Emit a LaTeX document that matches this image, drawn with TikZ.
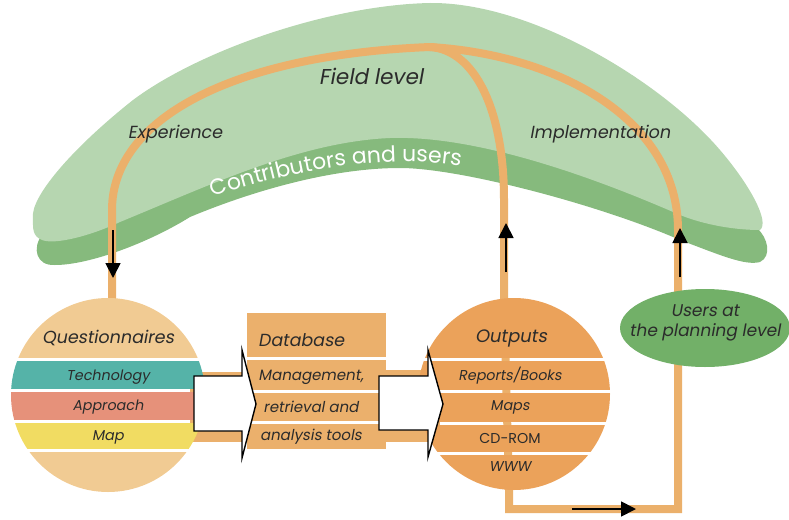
\documentclass[tikz,border=0pt]{standalone}
\usepackage{fontspec}
\setmainfont{Poppins}[ItalicFont=Poppins, ItalicFeatures={FakeSlant=0.18}]
\usetikzlibrary{arrows.meta,decorations.text,shapes.geometric}
\definecolor{lgreen}{HTML}{B6D6B0}
\definecolor{dgreen}{HTML}{86BA7D}
\definecolor{ugreen}{HTML}{72B068}
\definecolor{oline}{HTML}{EBB06B}
\definecolor{tanc}{HTML}{F1CB93}
\definecolor{tealc}{HTML}{55B3A8}
\definecolor{salmonc}{HTML}{E6917A}
\definecolor{yellowc}{HTML}{F1DC62}
\definecolor{dbc}{HTML}{EBB06C}
\definecolor{outc}{HTML}{EBA25A}
\definecolor{txt}{HTML}{2B2B2B}
\begin{document}
\begin{tikzpicture}[x=1pt,y=-1pt,
  orangeline/.style={draw=oline, line width=8pt},
  blackarrow/.style={line width=1.8pt, -{Triangle[length=15pt,width=15pt]}},
  blockarrow/.style={draw=black, line width=1.4pt, fill=white, line join=miter},
  big/.style={font=\itshape\fontsize{17.5}{20}\selectfont, text=txt, inner sep=0},
  small/.style={font=\itshape\fontsize{14.3}{16}\selectfont, text=txt, inner sep=0},
  smallup/.style={font=\fontsize{14.3}{16}\selectfont, text=txt, inner sep=0},
  field/.style={font=\itshape\fontsize{17.5}{20}\selectfont, text=txt, inner sep=0},
  anchorcircle/.style={circle, minimum size=#1, inner sep=0}
]
\useasboundingbox (0,0) rectangle (789,519);

% ---- green arc ----
\fill[dgreen] (42,235) .. controls (32,248) and (36,266) .. (55,265)
  .. controls (90,265) and (150,242) .. (190,217)
  .. controls (250,192) and (330,168) .. (400,168)
  .. controls (460,168) and (600,205) .. (680,240)
  .. controls (720,255) and (745,266) .. (760,262)
  .. controls (772,256) and (768,238) .. (757,228)
  .. controls (600,100) and (300,80) .. (42,235) -- cycle;
\fill[lgreen] (33,218) .. controls (30,198) and (70,150) .. (133,100)
  .. controls (200,50) and (330,5) .. (430,3)
  .. controls (530,2) and (660,80) .. (720,150)
  .. controls (750,185) and (770,222) .. (760,230)
  .. controls (735,230) and (705,225) .. (680,215)
  .. controls (600,180) and (480,135) .. (390,138)
  .. controls (300,142) and (210,185) .. (120,222)
  .. controls (90,236) and (55,245) .. (42,240)
  .. controls (32,236) and (33,228) .. (33,218) -- cycle;

% ---- named points ----
\node[anchorcircle=194pt] (q) at (108,395) {};
\node[anchorcircle=192pt] (o) at (514,394) {};
\coordinate (qtop) at (112,300);
\coordinate (split) at (430,47);
\coordinate (otop) at (504,300);
\coordinate (obot) at (509,490);

% ---- orange lines ----
\draw[orangeline] (qtop) -- (112,210) .. controls (112,120) and (230,55) .. (split);
\draw[orangeline] (split) .. controls (475,50) and (504,110) .. (504,200) -- (otop);
\draw[orangeline, line join=miter] (split) .. controls (560,55) and (678,120) .. (678,230) -- (678,509) -- (509,509) -- (obot);
\draw[orangeline] (otop) -- (obot);

% ---- arc texts ----
\node[field, font=\itshape\fontsize{21.5}{24}\selectfont] (fl) at (371,76) {Field level};
\node[field] (exp) at (175,134) {Experience};
\node[field] (imp) at (600,134) {Implementation};
\path[decorate, decoration={text along path, text align=left,
  text={|\color{white}\fontsize{22}{24}\selectfont|Contributors and users}}]
  (213,197) .. controls (300,168) and (400,150) .. (480,170);

% ---- black arrows ----
\coordinate (ea1) at (113,230); \coordinate (ea2) at (113,278);
\coordinate (ia1) at (506,272); \coordinate (ia2) at (506,223);
\coordinate (ra1) at (680,277); \coordinate (ra2) at (680,228);
\coordinate (ba1) at (572,509); \coordinate (ba2) at (636,509);
\draw[blackarrow] (ea1) -- (ea2);
\draw[blackarrow] (ia1) -- (ia2);
\draw[blackarrow] (ra1) -- (ra2);
\draw[blackarrow] (ba1) -- (ba2);

% ---- connector bands ----
\fill[dbc] (190,372) rectangle (250,442);
\fill[dbc] (380,370) rectangle (440,442);

% ---- left circle ----
\begin{scope}
\clip (108,395) circle[radius=97];
\fill[tanc] (0,290) rectangle (220,357.5);
\fill[tealc] (0,360.5) rectangle (220,389);
\fill[salmonc] (0,392) rectangle (220,420);
\fill[yellowc] (0,423) rectangle (220,449);
\fill[tanc] (0,452) rectangle (220,500);
\end{scope}
\node[big] (qt) at (108,338) {Questionnaires};
\node[small] (tech) at (108,377) {Technology};
\node[small] (appr) at (108,407) {Approach};
\node[small] (map) at (108,437) {Map};

% ---- database ----
\fill[dbc] (247,313) rectangle (386,357);
\fill[dbc] (247,360) rectangle (386,390);
\fill[dbc] (247,393) rectangle (386,421);
\fill[dbc] (247,424) rectangle (386,449);
\node[big, anchor=west] (dbt) at (258,340) {Database};
\node[small, font=\itshape\fontsize{15}{16}\selectfont] (mg) at (311,377) {Management,};
\node[small, font=\itshape\fontsize{15}{16}\selectfont] (rt) at (311,407) {retrieval and};
\node[small, font=\itshape\fontsize{15}{16}\selectfont] (an) at (311,437) {analysis tools};

% ---- outputs circle ----
\begin{scope}
\clip (514,394) circle[radius=96];
\fill[outc] (400,290) rectangle (620,357.5);
\fill[outc] (400,360.5) rectangle (620,389.5);
\fill[outc] (400,392.5) rectangle (620,421.5);
\fill[outc] (400,424.5) rectangle (620,451.5);
\fill[outc] (400,454.5) rectangle (620,500);
\end{scope}
\node[big, font=\itshape\fontsize{18}{20}\selectfont] (ot) at (511,338) {Outputs};
\node[small] (rb) at (510,376) {Reports/Books};
\node[small] (mp) at (510,407) {Maps};
\node[smallup] (cd) at (510,438) {CD-ROM};
\node[small] (www) at (510,467) {WWW};

% ---- block arrows ----
\draw[blockarrow] (194,376) -- (242,376) -- (242,350) -- (256,404) -- (242,458) -- (242,431) -- (194,431) -- cycle;
\draw[blockarrow] (379,376) -- (428,376) -- (428,350) -- (443,404) -- (428,457) -- (428,430) -- (379,430) -- cycle;

% ---- users ellipse ----
\node[ellipse, fill=ugreen, minimum width=170pt, minimum height=78pt, inner sep=0] (users) at (705,328) {};
\node[field, align=center, font=\itshape\fontsize{17}{20}\selectfont] (ut) at (705,323) {Users at\\the planning level};
\end{tikzpicture}
\end{document}
